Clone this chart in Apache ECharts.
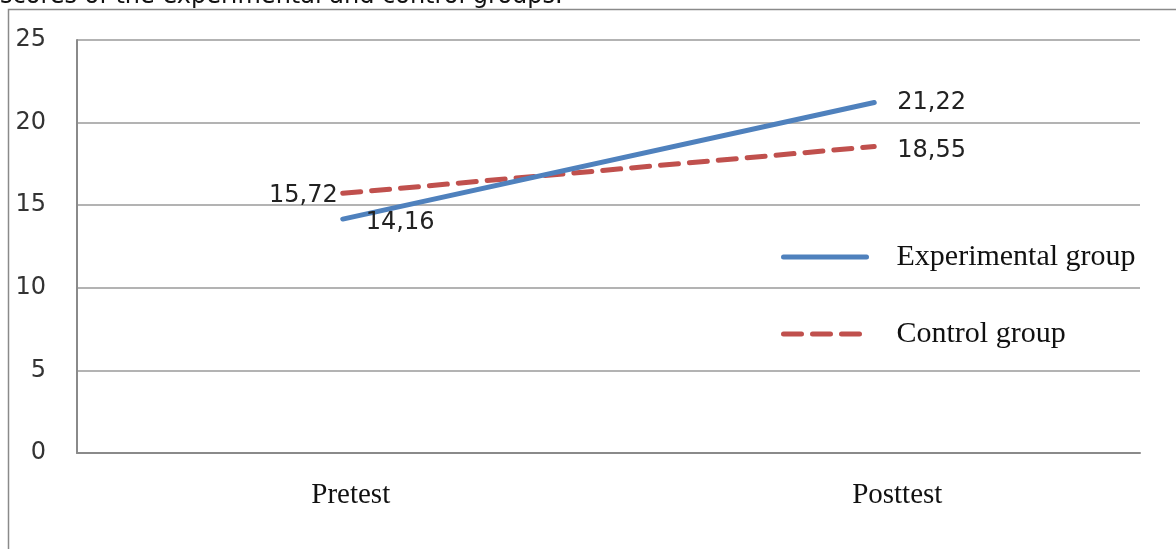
<!DOCTYPE html>
<html>
<head>
<meta charset="utf-8">
<script src="https://cdn.jsdelivr.net/npm/echarts@6/dist/echarts.min.js"></script>
<style>
  html, body { margin: 0; padding: 0; background: #fff; }
  #chart { width: 1176px; height: 549px; }
</style>
</head>
<body>
<div id="chart"></div>
<script>
// Test phases and mean scores per group
const categories = ['Pretest', 'Posttest'];
const experimentalScores = [14.16, 21.22];
const controlScores = [15.72, 18.55];
const seriesNames = ['Experimental group', 'Control group'];
const yTicks = { min: 0, max: 25, interval: 5 };

const chart = echarts.init(document.getElementById('chart'), null, { renderer: 'canvas' });

const numFont = 'DejaVu Sans, Verdana, sans-serif';
const serifFont = 'Liberation Serif, Times New Roman, serif';
const commaFmt = p => p.value.toFixed(2).replace('.', ',');

// label placement for each point, keyed by index
const expLabelPos = [
  { position: 'right', offset: [18, 4] },
  { position: 'right', offset: [18, 0] }
];
const ctlLabelPos = [
  { position: 'left', offset: [0, 2] },
  { position: 'right', offset: [18, 4] }
];
const catLabelPad = [[0, 0, 0, 16], [0, 0, 0, 46]];

chart.setOption({
  animation: false,
  graphic: [
    {
      type: 'text',
      left: 0,
      top: -15,
      style: {
        text: 'scores of the experimental and control groups.',
        font: '24px ' + numFont,
        fill: '#111'
      }
    },
    {
      type: 'rect',
      shape: { x: 8.5, y: 9.5, width: 1200, height: 600 },
      style: { fill: 'none', stroke: '#8a8a8a', lineWidth: 1.5 },
      z: -1
    }
  ],
  grid: { left: 77, right: 36, top: 40, bottom: 96, containLabel: false },
  legend: {
    orient: 'vertical',
    left: 776,
    top: 237,
    itemWidth: 83,
    itemHeight: 14,
    itemGap: 47,
    itemStyle: { opacity: 0 },
    lineStyle: { width: 5 },
    textStyle: {
      fontFamily: serifFont,
      fontSize: 30,
      color: '#111',
      lineHeight: 30,
      padding: [0, 0, 0, 25]
    },
    data: seriesNames
  },
  xAxis: {
    type: 'category',
    data: categories.map((c, i) => ({ value: c, textStyle: { padding: catLabelPad[i] } })),
    boundaryGap: true,
    axisLine: { lineStyle: { color: '#8a8a8a', width: 2 } },
    axisTick: { show: false },
    axisLabel: {
      margin: 28,
      fontFamily: serifFont,
      fontSize: 29,
      color: '#111'
    }
  },
  yAxis: {
    type: 'value',
    min: yTicks.min,
    max: yTicks.max,
    interval: yTicks.interval,
    axisLine: { show: true, lineStyle: { color: '#8a8a8a', width: 2 } },
    axisTick: { show: false },
    splitLine: { lineStyle: { color: '#9a9a9a', width: 1.5 } },
    axisLabel: {
      margin: 31,
      fontFamily: numFont,
      fontSize: 24,
      color: '#333',
      padding: [4, 0, 0, 0]
    }
  },
  series: [
    {
      name: seriesNames[0],
      type: 'line',
      symbol: 'circle',
      symbolSize: 0,
      data: experimentalScores.map((v, i) => ({ value: v, label: expLabelPos[i] })),
      lineStyle: { color: '#4f81bd', width: 5, cap: 'round' },
      itemStyle: { color: '#4f81bd' },
      label: {
        show: true,
        formatter: commaFmt,
        fontFamily: numFont,
        fontSize: 24,
        color: '#222'
      },
      z: 3
    },
    {
      name: seriesNames[1],
      type: 'line',
      symbol: 'circle',
      symbolSize: 0,
      data: controlScores.map((v, i) => ({ value: v, label: ctlLabelPos[i] })),
      lineStyle: { color: '#c0504d', width: 5, type: [18, 11], cap: 'round' },
      itemStyle: { color: '#c0504d' },
      label: {
        show: true,
        formatter: commaFmt,
        fontFamily: numFont,
        fontSize: 24,
        color: '#222'
      },
      z: 2
    }
  ]
});
</script>
</body>
</html>
